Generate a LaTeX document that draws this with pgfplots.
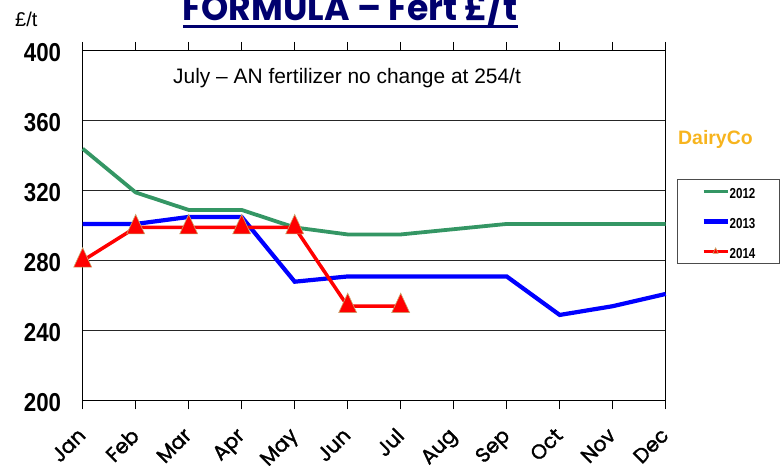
\documentclass[border=0pt]{standalone}
\usepackage{pgfplots}
\pgfplotsset{compat=1.18}
\usepackage{fontspec}
\setmainfont{Liberation Sans}
\newfontfamily\ytickfont{Liberation Sans}[FakeStretch=0.86]
\newfontfamily\legnum{Liberation Sans}[FakeStretch=0.8]
\newfontfamily\titlefont{Poppins}
\newfontfamily\monthfont{Poppins}[FakeBold=1.5]
\definecolor{gr}{RGB}{52,150,100}
\definecolor{navy}{RGB}{0,0,110}
\definecolor{dairy}{RGB}{247,180,30}
\definecolor{tri}{RGB}{200,170,110}
\begin{document}
\begin{tikzpicture}
\useasboundingbox (0,0) rectangle (781bp,466bp);
\begin{axis}[
 at={(82.7bp,65.3bp)}, anchor=south west,
 scale only axis, width=583bp, height=350bp,
 xmin=0, xmax=11, ymin=200, ymax=400,
 xtick={0,...,11},
 xticklabels={Jan,Feb,Mar,Apr,May,Jun,Jul,Aug,Sep,Oct,Nov,Dec},
 ytick={200,240,...,400},
 ymajorgrids, major grid style={black!85, line width=0.9bp},
 axis line style={black, line width=1.2bp},
 tick align=outside, major tick length=8.7bp,
 xtick style={black, line width=1bp}, ytick style={draw=none},
 /pgf/number format/assume math mode=true,
 yticklabel style={font=\ytickfont\bfseries\fontsize{26}{26}\selectfont, anchor=east, inner sep=0pt, xshift=-12.7bp, yshift=-2bp},
 xticklabel style={font=\monthfont\fontsize{20.5}{20.5}\selectfont, inner sep=0pt, xshift=-6bp, yshift=-17bp, rotate=45, anchor=north east},
 clip=false,
 legend cell align=left,
 legend style={at={(1.0194,0.6334)}, anchor=north west, draw=black!70, line width=1bp,
   font=\legnum\bfseries\fontsize{14.5}{14.5}\selectfont,
   inner xsep=24bp, inner ysep=5.5bp, row sep=17bp,
   nodes={inner sep=0pt, text height=13bp, text depth=0pt},
   /tikz/every even column/.append style={column sep=3bp}},
 legend image code/.code={\draw[#1, mark repeat=2, mark phase=2, mark size=3bp] plot coordinates {(0bp,0bp) (12bp,0bp) (24bp,0bp)};},
]
\addplot[gr, line width=3.8bp] coordinates {
 (0,344) (1,319) (2,309) (3,309) (4,299) (5,295) (6,295) (7,298) (8,301) (9,301) (10,301) (11,301)};
\addlegendentry{2012}
\addplot[blue, line width=4.2bp] coordinates {
 (0,301) (1,301) (2,305) (3,305) (4,268) (5,271) (6,271) (7,271) (8,271) (9,249) (10,254) (11,261)};
\addlegendentry{2013}
\addplot[red, line width=3.5bp, mark=triangle*, mark size=10.4bp,
  mark options={yscale=1.25, fill=red, draw=tri, line width=0.6bp}] coordinates {
 (0,280) (1,299) (2,299) (3,299) (4,299) (5,254) (6,254)};
\addlegendentry{2014}
\end{axis}
% title
\node[anchor=base west, inner sep=0pt, text=navy] at (182.5bp,445.3bp)
  {\resizebox{335bp}{\height}{\titlefont\bfseries\fontsize{36}{36}\selectfont FORMULA – Fert £/t}};
\fill[navy] (182.5bp,438bp) rectangle (517.5bp,440.5bp);
\node[anchor=base west, inner sep=0pt] at (15bp,439bp) {\fontsize{20}{20}\selectfont £/t};
\node[anchor=base west, inner sep=0pt] at (173bp,382bp) {\fontsize{21}{21}\selectfont July – AN fertilizer no change at 254/t};
\node[anchor=base west, inner sep=0pt, text=dairy] at (678bp,321bp) {\bfseries\fontsize{19.5}{19.5}\selectfont DairyCo};
\end{tikzpicture}
\end{document}
